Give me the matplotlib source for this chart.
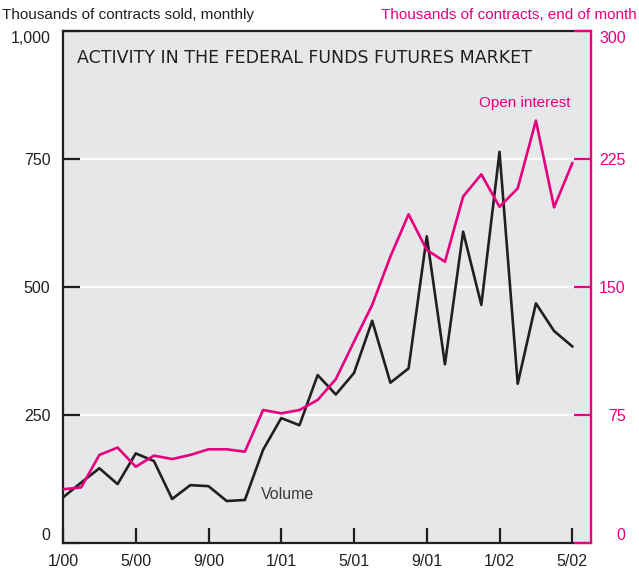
import matplotlib.pyplot as plt
import numpy as np

plt.rcParams['font.family'] = ['Liberation Sans', 'DejaVu Sans']

months = np.arange(0, 29)
tick_labels = ['1/00', '5/00', '9/00', '1/01', '5/01', '9/01', '1/02', '5/02']

# thousands of contracts sold, monthly
volume = [89, 118, 146, 115, 175, 160, 86, 113, 111, 82, 84, 182, 244, 230,
          328, 290, 332, 434, 313, 341, 599, 349, 608, 465, 764, 311, 468, 414, 384]

# thousands of contracts, end of month
open_interest = [31.5, 32.6, 51.6, 55.9, 44.7, 51.2, 49.2, 51.6, 54.9, 54.9, 53.5,
                 77.9, 76.0, 77.9, 83.8, 96.0, 118, 139.5, 167.8, 192.6, 171.7,
                 164.8, 203, 216, 197, 207.8, 247.5, 196.7, 222.5]

pink = '#e6007e'
bg = '#e6e7e9'

fig = plt.figure(figsize=(6.39, 5.73), dpi=100)
ax = fig.add_axes([63/639, 1 - 543/573, 528/639, 512/573])
ax.set_facecolor(bg)

for g in [250, 500, 750]:
    ax.axhline(g, color='white', lw=1.6, zorder=1)

ax.plot(months, volume, color='#231f20', lw=1.9, zorder=3)
ax.set_xlim(0, 29.03)
ax.set_ylim(0, 1000)
ax.set_yticks([0, 250, 500, 750, 1000])
ax.set_yticklabels(['0', '250', '500', '750', '1,000'])
ax.set_xticks(np.arange(0, 29, 4))
ax.set_xticklabels(tick_labels)
ax.tick_params(axis='y', direction='in', length=12, width=1.6, labelsize=11.5, pad=9,
               color='#231f20', labelcolor='#231f20')
ax.tick_params(axis='x', direction='in', length=11, width=1.6, labelsize=11.5, pad=8,
               color='#231f20', labelcolor='#231f20')
for s in ['left', 'bottom', 'top']:
    ax.spines[s].set_linewidth(1.6)
    ax.spines[s].set_color('#231f20')

ax2 = ax.twinx()
ax2.plot(months, open_interest, color=pink, lw=1.9, zorder=4)
ax2.set_ylim(0, 300)
ax2.set_yticks([0, 75, 150, 225, 300])
ax2.tick_params(axis='y', direction='in', length=12, width=1.6, labelsize=11.5, pad=25,
                color=pink, labelcolor=pink)
ax2.spines['right'].set_color(pink)
ax2.spines['right'].set_linewidth(1.6)
for s in ['left', 'bottom', 'top']:
    ax2.spines[s].set_visible(False)

# right labels are right-aligned, end labels sit inside the range
for lab in ax2.get_yticklabels():
    lab.set_horizontalalignment('right')
ax.get_yticklabels()[0].set_verticalalignment('bottom')
ax.get_yticklabels()[-1].set_verticalalignment('top')
ax2.get_yticklabels()[0].set_verticalalignment('bottom')
ax2.get_yticklabels()[-1].set_verticalalignment('top')

ax.text(0.027, 0.965, 'ACTIVITY IN THE FEDERAL FUNDS FUTURES MARKET', transform=ax.transAxes,
        fontsize=12.5, family=['DejaVu Sans'], color='#231f20', va='top', ha='left')
ax.text(10.9, 95, 'Volume', fontsize=11.5, color='#3a3a3a', va='center', ha='left')
ax2.text(25.4, 258, 'Open interest', fontsize=11, color=pink, va='center', ha='center')

fig.text(2/639, 1 - 15/573, 'Thousands of contracts sold, monthly', fontsize=11,
         color='#231f20', va='center', ha='left')
fig.text(637/639, 1 - 15/573, 'Thousands of contracts, end of month', fontsize=11,
         color=pink, va='center', ha='right')

plt.savefig('out.png', dpi=100)
